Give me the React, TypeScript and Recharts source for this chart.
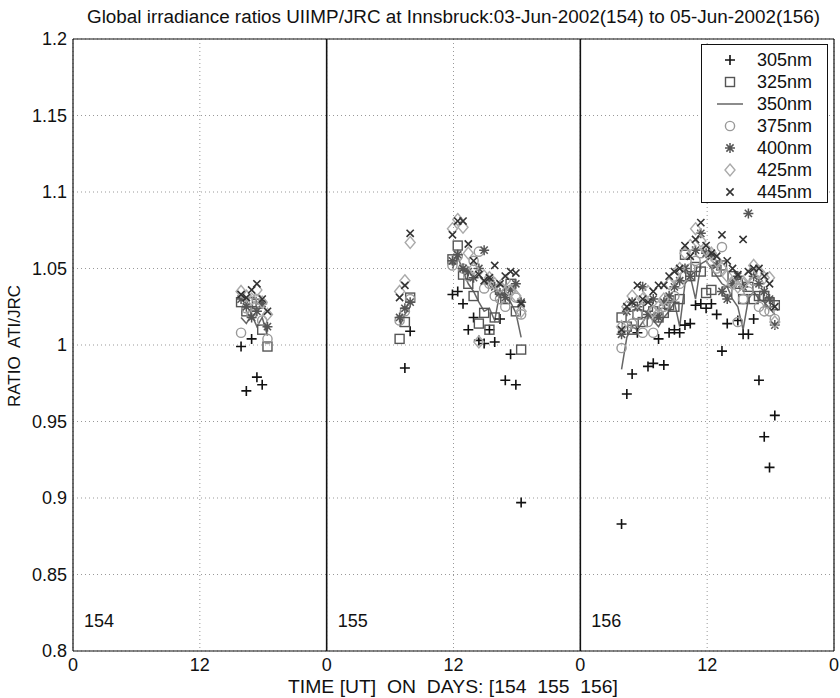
import React from 'react';
import { ComposedChart, Scatter, Line, XAxis, YAxis, CartesianGrid, ReferenceLine } from 'recharts';

const FONT = '"Liberation Sans", Arial, Helvetica, sans-serif';

const days = ['154', '155', '156'];
const xTicks = [0, 12, 24, 36, 48, 60, 72];
const yTicks = [0.8, 0.85, 0.9, 0.95, 1, 1.05, 1.1, 1.15, 1.2];

// measurement times, hours since start of day 154
const hours154 = [15.9, 16.4, 16.9, 17.4, 17.9, 18.4];
const hours155 = [30.9, 31.4, 31.9, 35.9, 36.4, 36.9, 37.4, 37.9, 38.4, 38.9, 39.4, 39.9, 40.4, 40.9, 41.4, 41.9, 42.4];
const hours156 = [51.9, 52.4, 52.9, 53.4, 53.9, 54.4, 54.9, 55.4, 55.9, 56.4, 56.9, 57.4, 57.9, 58.4, 58.9,
  59.4, 59.9, 60.4, 60.9, 61.4, 61.9, 62.4, 62.9, 63.4, 63.9, 64.4, 64.9, 65.4, 65.9, 66.4];

// ratio values per wavelength, one list per day
const r305 = [
  [0.999, 0.970, 1.004, 0.979, 0.974, null],
  [null, 0.985, 1.009, 1.033, 1.035, 1.027, 1.010, 1.018, 1.003, 1.001, 1.010, 1.002, 1.017, 0.977, 0.994, 0.974, 0.897],
  [0.883, 0.968, 0.981, 1.008, null, 0.986, 0.988, 1.004, 0.987, 1.008, 1.010, 1.008, 1.013, 1.014, 1.026,
    1.027, 1.024, 1.027, 1.020, 0.996, 1.014, null, 1.016, 1.007, 1.007, 1.017, 0.977, 0.940, 0.920, 0.954],
];
const r325 = [
  [1.028, 1.022, 1.028, 1.027, 1.010, 0.999],
  [1.004, 1.015, 1.031, 1.056, 1.065, 1.046, 1.040, 1.032, 1.014, 1.021, 1.010, 1.018, 1.036, 1.030, 1.040, 1.022, 0.997],
  [1.018, 1.012, 1.010, 1.020, 1.015, 1.025, 1.022, 1.018, 1.021, 1.026, 1.025, 1.030, 1.059, 1.045, 1.051,
    1.048, 1.034, 1.036, 1.048, 1.052, 1.035, 1.045, 1.040, 1.030, 1.038, 1.030, 1.032, 1.032, 1.028, 1.026],
];
const r350 = [
  [1.018, 1.014, 1.020, 1.012, 1.018, 1.006],
  [1.012, 1.020, 1.025, 1.050, 1.058, 1.048, 1.040, 1.035, 1.028, 1.022, 1.024, 1.016, 1.035, 1.032, 1.028, 1.021, 1.005],
  [0.984, 1.005, 1.012, 1.010, 1.015, 1.020, 1.016, 1.012, 1.018, 1.022, 1.028, 1.012, 1.040, 1.045, 1.030,
    1.053, 1.055, 1.050, 1.045, 1.040, 1.038, 1.030, 1.025, 1.010, 1.030, 1.035, 1.030, 1.028, 1.024, 1.020],
];
const r375 = [
  [1.008, 1.024, 1.020, 1.030, 1.016, 1.004],
  [1.016, 1.022, 1.030, 1.052, 1.058, 1.050, 1.045, 1.055, 1.061, 1.037, 1.040, 1.032, 1.030, 1.025, 1.036, 1.031, 1.020],
  [0.998, 1.012, 1.014, 1.020, 1.008, 1.015, 1.008, 1.020, 1.025, 1.030, 1.032, 1.040, 1.045, 1.050, 1.055,
    1.060, 1.062, 1.055, 1.050, 1.064, 1.036, 1.040, 1.015, 1.030, 1.035, 1.042, 1.025, 1.022, 1.022, 1.017],
];
const r400 = [
  [1.030, 1.025, 1.018, 1.022, 1.027, 1.012],
  [1.018, 1.024, 1.028, 1.055, 1.059, 1.050, 1.048, 1.044, 1.050, 1.062, 1.042, 1.038, 1.034, 1.031, 1.036, 1.040, 1.028],
  [1.007, 1.022, 1.028, 1.025, 1.038, 1.020, 1.030, 1.018, 1.028, 1.032, 1.038, 1.042, 1.050, 1.045, 1.062,
    1.073, 1.060, 1.058, 1.052, 1.035, 1.030, 1.040, 1.045, 1.038, 1.086, 1.045, 1.040, 1.035, 1.030, 1.013],
];
const r425 = [
  [1.035, 1.032, 1.030, 1.036, 1.028, 1.020],
  [1.035, 1.042, 1.067, 1.076, 1.082, 1.077, 1.060, 1.050, 1.002, 1.045, 1.044, 1.040, 1.038, 1.042, 1.035, 1.032, 1.022],
  [1.012, 1.025, 1.032, 1.028, 1.030, 1.035, 1.022, 1.025, 1.030, 1.040, 1.045, 1.050, 1.060, 1.065, 1.076,
    1.068, 1.062, 1.060, 1.055, 1.050, 1.045, 1.040, 1.038, 1.040, 1.045, 1.052, 1.048, 1.044, 1.044, 1.015],
];
const r445 = [
  [1.033, 1.031, 1.036, 1.040, 1.030, 1.022],
  [1.031, 1.039, 1.073, 1.072, 1.081, 1.081, 1.066, 1.055, 1.046, 1.042, 1.044, 1.052, 1.040, 1.045, 1.048, 1.047, 1.027],
  [1.010, 1.025, 1.028, 1.039, 1.030, 1.028, 1.035, 1.039, 1.039, 1.045, 1.048, 1.050, 1.065, 1.058, 1.069,
    1.080, 1.065, 1.060, 1.058, 1.072, 1.055, 1.050, 1.046, 1.069, 1.048, 1.050, 1.050, 1.045, 1.040, 1.025],
];

const dayHours = [hours154, hours155, hours156];

const toPoints = (vals: (number | null)[][]) =>
  dayHours.flatMap((hs, d) => hs.map((h, i) => ({ x: h, y: vals[d][i] }))).filter((p) => p.y != null);

// line broken wherever there is a gap in the measurements
const toLine = (vals: (number | null)[][]) => {
  const out: { x: number; y: number | null }[] = [];
  dayHours.forEach((hs, d) => {
    hs.forEach((h, i) => {
      if (i > 0 && h - hs[i - 1] > 1) out.push({ x: hs[i - 1] + 0.5, y: null });
      out.push({ x: h, y: vals[d][i] });
    });
    out.push({ x: hs[hs.length - 1] + 1, y: null });
  });
  return out;
};

// marker shapes
const Plus = ({ cx, cy }: any) => (
  <path d={`M${cx - 5},${cy}h10M${cx},${cy - 5}v10`} stroke="#111" strokeWidth={1.6} fill="none" />
);
const Square = ({ cx, cy }: any) => (
  <rect x={cx - 4.5} y={cy - 4.5} width={9} height={9} stroke="#555" strokeWidth={1.4} fill="none" />
);
const Ring = ({ cx, cy }: any) => (
  <circle cx={cx} cy={cy} r={4.6} stroke="#999" strokeWidth={1.4} fill="none" />
);
const Star = ({ cx, cy }: any) => (
  <path
    d={`M${cx - 5},${cy}h10M${cx},${cy - 5}v10M${cx - 3.6},${cy - 3.6}l7.2,7.2M${cx - 3.6},${cy + 3.6}l7.2,-7.2`}
    stroke="#555" strokeWidth={1.5} fill="none"
  />
);
const Diamond = ({ cx, cy }: any) => (
  <path d={`M${cx},${cy - 6}L${cx + 5},${cy}L${cx},${cy + 6}L${cx - 5},${cy}Z`} stroke="#aaa" strokeWidth={1.4} fill="none" />
);
const Cross = ({ cx, cy }: any) => (
  <path d={`M${cx - 3.6},${cy - 3.6}l7.2,7.2M${cx - 3.6},${cy + 3.6}l7.2,-7.2`} stroke="#333" strokeWidth={1.6} fill="none" />
);
const LineIcon = ({ cx, cy }: any) => (
  <path d={`M${cx - 13},${cy}h26`} stroke="#666" strokeWidth={1.5} />
);

const legendItems = [
  { label: '305nm', Icon: Plus },
  { label: '325nm', Icon: Square },
  { label: '350nm', Icon: LineIcon },
  { label: '375nm', Icon: Ring },
  { label: '400nm', Icon: Star },
  { label: '425nm', Icon: Diamond },
  { label: '445nm', Icon: Cross },
];

const noTick = () => <g />;

const dayLabel = (text: string) => (props: any) => {
  const vb = props.viewBox;
  return (
    <text x={vb.x + 11} y={vb.y + vb.height - 24} fontSize={18} fontFamily={FONT} fill="#111">
      {text}
    </text>
  );
};

export default function App() {
  const tickStyle = { fontSize: 18, fill: '#111', fontFamily: FONT };
  return (
    <div style={{ position: 'absolute', left: 0, top: 0, width: 840, height: 698, background: '#fff', fontFamily: FONT }}>
      <svg width={840} height={34} style={{ position: 'absolute', left: 0, top: 0 }}>
        <text x={87} y={23} textLength={733} lengthAdjust="spacingAndGlyphs" fontSize={18} fontFamily={FONT} fill="#111">
          Global irradiance ratios UIIMP/JRC at Innsbruck:03-Jun-2002(154) to 05-Jun-2002(156)
        </text>
      </svg>
      <ComposedChart width={840} height={698} margin={{ top: 39, right: 6, bottom: 0, left: 0 }}>
        <CartesianGrid stroke="#999" strokeDasharray="1 3" />
        <XAxis
          type="number"
          dataKey="x"
          domain={[0, 72]}
          ticks={xTicks}
          interval={0}
          allowDataOverflow
          height={47}
          tickFormatter={(v: number) => String(v % 24)}
          tick={tickStyle}
          tickLine={false}
          tickSize={4}
          tickMargin={3}
          axisLine={{ stroke: '#111', strokeWidth: 1.2 }}
          label={(p: any) => {
            const vb = p.viewBox;
            return (
              <text x={288} y={693} textLength={330} lengthAdjust="spacingAndGlyphs" fontSize={18} fontFamily={FONT}
                fill="#111" style={{ whiteSpace: 'pre' }}>
                {'TIME [UT]  ON  DAYS: [' + days.join('  ') + ']'}
              </text>
            );
          }}
        />
        <XAxis xAxisId="bt" type="number" domain={[0, 72]} ticks={xTicks} interval={0} orientation="bottom" mirror
          tick={noTick} tickSize={7} axisLine={false} tickLine={{ stroke: '#111' }} height={47} />
        <XAxis xAxisId="tt" type="number" domain={[0, 72]} ticks={xTicks} interval={0} orientation="top" mirror
          tick={noTick} tickSize={7} axisLine={{ stroke: '#111', strokeWidth: 1.2 }} tickLine={{ stroke: '#111' }} />
        <YAxis
          type="number"
          dataKey="y"
          domain={[0.8, 1.2]}
          ticks={yTicks}
          interval={0}
          allowDataOverflow
          width={73}
          tickFormatter={(v: number) => String(Math.round(v * 100) / 100)}
          tick={tickStyle}
          tickLine={false}
          tickSize={3}
          tickMargin={3}
          axisLine={{ stroke: '#111', strokeWidth: 1.2 }}
          label={() => (
            <text x={14} y={346} transform="rotate(-90, 14, 346)" textAnchor="middle" dominantBaseline="central"
              fontSize={17} fontFamily={FONT} fill="#111" style={{ whiteSpace: 'pre' }}>
              RATIO  ATI/JRC
            </text>
          )}
        />
        <YAxis yAxisId="lt" type="number" domain={[0.8, 1.2]} ticks={yTicks} interval={0} orientation="left" mirror
          tick={noTick} tickSize={7} axisLine={false} tickLine={{ stroke: '#111' }} />
        <YAxis yAxisId="rt" type="number" domain={[0.8, 1.2]} ticks={yTicks} interval={0} orientation="right" mirror
          tick={noTick} tickSize={7} axisLine={{ stroke: '#111', strokeWidth: 1.2 }} tickLine={{ stroke: '#111' }} />

        <ReferenceLine x={0} stroke="none" label={dayLabel(days[0])} />
        <ReferenceLine x={24} stroke="#111" strokeWidth={1.6} label={dayLabel(days[1])} />
        <ReferenceLine x={48} stroke="#111" strokeWidth={1.6} label={dayLabel(days[2])} />

        <Scatter name="305nm" data={toPoints(r305)} shape={Plus} isAnimationActive={false} />
        <Scatter name="325nm" data={toPoints(r325)} shape={Square} isAnimationActive={false} />
        <Line name="350nm" data={toLine(r350)} dataKey="y" stroke="#666" strokeWidth={1.5} dot={false}
          connectNulls={false} isAnimationActive={false} type="linear" />
        <Scatter name="375nm" data={toPoints(r375)} shape={Ring} isAnimationActive={false} />
        <Scatter name="400nm" data={toPoints(r400)} shape={Star} isAnimationActive={false} />
        <Scatter name="425nm" data={toPoints(r425)} shape={Diamond} isAnimationActive={false} />
        <Scatter name="445nm" data={toPoints(r445)} shape={Cross} isAnimationActive={false} />
      </ComposedChart>
      <svg width={128} height={160} style={{ position: 'absolute', left: 701, top: 44 }}>
        <rect x={0.5} y={0.5} width={126} height={158} fill="#fff" stroke="#111" strokeWidth={1} />
        {legendItems.map((it, i) => (
          <g key={it.label}>
            <it.Icon cx={29} cy={16 + i * 22} />
            <text x={56} y={16 + i * 22} dominantBaseline="central" fontSize={18} fontFamily={FONT} fill="#111">
              {it.label}
            </text>
          </g>
        ))}
      </svg>
    </div>
  );
}
